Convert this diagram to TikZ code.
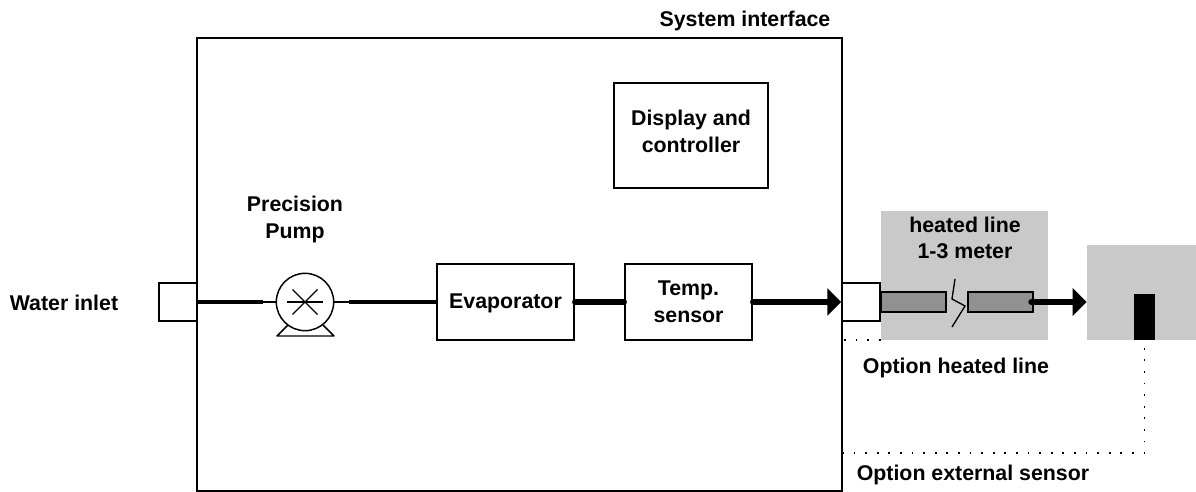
\documentclass[tikz,border=0pt]{standalone}
\usepackage{fontspec}
\setmainfont{Liberation Sans}
\usetikzlibrary{arrows.meta}
\tikzset{
    box/.style={draw, line width=1.1pt, fill=white, align=center, inner sep=0pt, font=\fontsize{16}{20}\selectfont\bfseries},
    label/.style={align=center, inner sep=0pt, font=\fontsize{16}{20}\selectfont\bfseries},
    greyarea/.style={fill=black!21, inner sep=0pt},
    linebar/.style={draw, line width=1.1pt, fill=black!43, inner sep=0pt, minimum width=48.75pt, minimum height=15pt},
    thinpipe/.style={line width=0.8pt},
    midpipe/.style={line width=2.4pt},
    thickpipe/.style={line width=4pt, line cap=round},
    flow/.style={thickpipe, -{Triangle[length=10.5pt, width=20pt]}},
    option/.style={line width=1.1pt, dash pattern=on 1.3pt off 7.4pt}
}
\begin{document}
\begin{tikzpicture}[x=0.75pt, y=-0.75pt]
            \useasboundingbox (0, 0) rectangle (1196, 492);

            \node[greyarea, minimum width=125.25pt, minimum height=96.75pt] at (964.5, 275.5) (heatedarea) {};
            \node[greyarea, minimum width=81.75pt, minimum height=71.25pt] at (1141.5, 292.5) (sensorarea) {};

            \node[box, minimum width=483.75pt, minimum height=339.75pt] at (519.5, 264.5) (system) {};
            \node[box, minimum width=28.5pt, minimum height=28.5pt] at (178, 302) (inlet) {};
            \node[box, minimum width=28.5pt, minimum height=28.5pt] at (861, 302) (outlet) {};
            \node[box, minimum width=102.75pt, minimum height=57pt, text depth=1.3pt] at (505.5, 302) (evaporator) {Evaporator};
            \node[box, minimum width=95.25pt, minimum height=57pt] at (688.5, 302) (tempsensor) {Temp.\\sensor};
            \node[box, minimum width=115.5pt, minimum height=78.75pt, text depth=6pt] at (691, 135.5) (display) {Display and\\controller};
            \node[circle, draw, line width=1.1pt, inner sep=0pt, minimum size=43pt] at (305, 302) (pump) {};

            \node[linebar] at (913.5, 302) (barleft) {};
            \node[linebar] at (1000.5, 302) (barright) {};
            \node[fill=black, inner sep=0pt, minimum width=15.75pt, minimum height=34.5pt] at (1144.5, 317) (sensor) {};

            \coordinate (pumpin) at (263, 302);
            \coordinate (pumpout) at (349, 302);
            \coordinate (heatedend) at (881, 340);
            \coordinate (corner) at (1144.5, 453);
            \coordinate (systemside) at (842, 453);
            \coordinate (systemlow) at (844, 340);
            \coordinate (barend) at (1031, 302);

            \draw [midpipe] (inlet.east) -- (pumpin);
            \draw [thinpipe] (pumpin) -- (pump);
            \draw [thinpipe] (pump) -- (pumpout);
            \draw [midpipe] (pumpout) -- (evaporator);
            \draw [thickpipe] (evaporator) -- (tempsensor);
            \draw [flow] (tempsensor) -- (outlet);
            \draw [flow] (barend) -- (sensorarea.west |- barend);
            \draw [option] (systemlow) -- (heatedend);
            \draw [option] (systemside) -- (corner) -- (sensor.south);

            \draw [line width=1pt] (pump.center) ++(-18, 0) -- ++(36, 0);
            \draw [line width=1pt] (pump.center) ++(-12.5, -12.5) -- ++(25, 25);
            \draw [line width=1pt] (pump.center) ++(-12.5, 12.5) -- ++(25, -25);
            \draw [line width=1.1pt, line join=round] (288, 325) -- (277, 336) -- (334, 336) -- (323, 325);
            \draw [line width=1pt] (955, 279) -- (952, 299) -- (965, 306) -- (952, 327);

            \node[label] at (64, 303) (waterinlet) {Water inlet};
            \node[label] at (295, 219.5) (pumplabel) {Precision\\Pump};
            \node[label] at (745, 20.5) (interface) {System interface};
            \node[label] at (965, 238) (heatedlabel) {heated line\\1-3 meter};
            \node[label] at (956, 368) (optionheated) {Option heated line};
            \node[label] at (973, 475) (optionsensor) {Option external sensor};
        \end{tikzpicture}
\end{document}
